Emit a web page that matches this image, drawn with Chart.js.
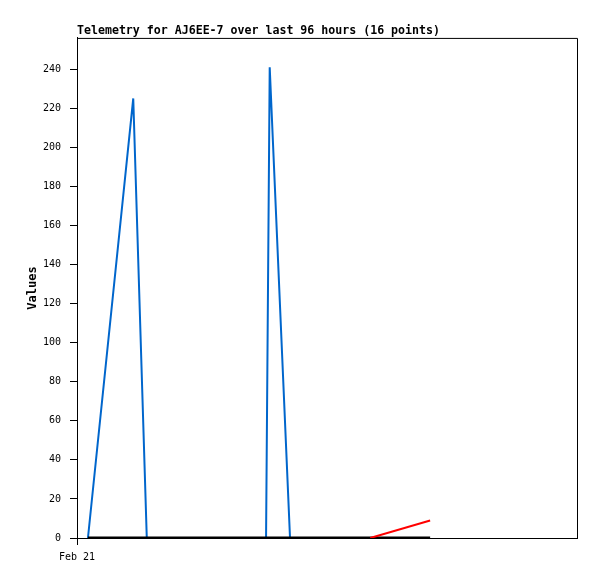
<!DOCTYPE html>
<html>
<head>
<meta charset="utf-8">
<script src="https://cdn.jsdelivr.net/npm/chart.js@4/dist/chart.umd.min.js"></script>
<style>
  html, body { margin: 0; padding: 0; background: #fff; }
  canvas { display: block; }
</style>
</head>
<body>
<canvas id="telemetry" width="597" height="579"></canvas>
<script>
// hours since Feb 21 00:00
const hours = [2.1, 10.8, 13.4, 18.0, 24.0, 30.0, 36.3, 37.0, 40.9, 46.0, 51.0, 56.3, 59.0, 62.0, 65.0, 67.8];
const blueVals = [0, 225, 0, 0, 0, 0, 0, 241, 0, 0, 0, 0, null, null, null, null];
const redVals = [null, null, null, null, null, null, null, null, null, null, null, 0, null, null, null, 9];
const baseVals = [0, 0, 0, 0, 0, 0, 0, 0, 0, 0, 0, 0, 0, 0, 0, 0];
const xTickLabels = { 0: 'Feb 21' };
const yTicks = { min: 0, max: 256, step: 20 };

const C = { blue: '#0066cc', red: '#ff0000', black: '#000000' };
const pts = vals => hours.map((h, i) => ({ x: h, y: vals[i] }));

// top and right edges of the plot box
const frame = {
  id: 'frame',
  afterDraw(chart) {
    const a = chart.chartArea, ctx = chart.ctx;
    ctx.save();
    ctx.strokeStyle = '#000';
    ctx.lineWidth = 1;
    ctx.beginPath();
    ctx.moveTo(a.left, a.top + 0.5);
    ctx.lineTo(a.right + 0.5, a.top + 0.5);
    ctx.lineTo(a.right + 0.5, a.bottom);
    ctx.stroke();
    ctx.restore();
  }
};

const line = (vals, color, width, order) => ({
  data: pts(vals), borderColor: color, borderWidth: width,
  pointRadius: 0, fill: false, tension: 0, spanGaps: true, order
});

new Chart(document.getElementById('telemetry'), {
  type: 'line',
  data: {
    datasets: [
      line(redVals, C.red, 2, 0),
      line(baseVals, C.black, 3, 1),
      line(blueVals, C.blue, 2, 2)
    ]
  },
  options: {
    responsive: false,
    animation: false,
    events: [],
    layout: { padding: { left: 0, right: 20, top: 0, bottom: 0 } },
    plugins: {
      legend: { display: false },
      tooltip: { enabled: false },
      title: {
        display: true, text: 'Telemetry for AJ6EE-7 over last 96 hours (16 points)',
        align: 'start', fullSize: false, color: '#000',
        font: { family: 'DejaVu Sans Mono', size: 11.6, weight: 'bold' },
        padding: { top: 24, bottom: 0 }
      }
    },
    scales: {
      x: {
        type: 'linear', min: 0, max: 96,
        afterBuildTicks: s => { s.ticks = Object.keys(xTickLabels).map(v => ({ value: +v })); },
        afterFit: s => { s.height = 41; },
        grid: { drawOnChartArea: false, drawTicks: true, tickLength: 7, color: '#000' },
        border: { color: '#000' },
        ticks: {
          color: '#000', padding: 6, maxRotation: 0,
          font: { family: 'DejaVu Sans Mono', size: 10 },
          callback: v => xTickLabels[v] || ''
        }
      },
      y: {
        min: yTicks.min, max: yTicks.max,
        afterBuildTicks: s => {
          const t = [];
          for (let v = yTicks.min; v <= yTicks.max; v += yTicks.step) t.push({ value: v });
          s.ticks = t;
        },
        afterFit: s => { s.width = 77; },
        grid: { drawOnChartArea: false, drawTicks: true, tickLength: 7, color: '#000' },
        border: { color: '#000' },
        ticks: {
          color: '#000', padding: 9,
          font: { family: 'DejaVu Sans Mono', size: 10 }
        },
        title: {
          display: true, text: 'Values', color: '#000',
          font: { family: 'DejaVu Sans Mono', size: 12, weight: 'bold' },
          padding: { top: 26, bottom: 0 }
        }
      }
    }
  },
  plugins: [frame]
});
</script>
</body>
</html>
